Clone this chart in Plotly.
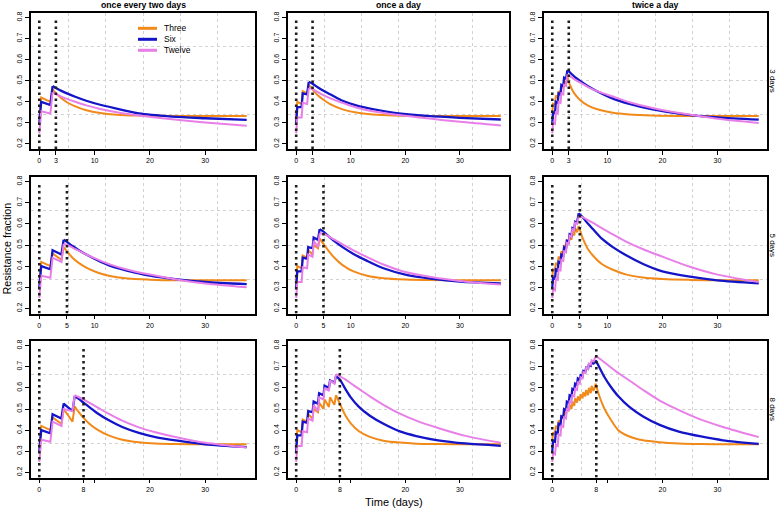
import plotly.graph_objects as go

# ---------------- data ----------------
durations = [3, 5, 8]
schedules = ["once every two days", "once a day", "twice a day"]
row_labels = ["3 days", "5 days", "8 days"]
series_names = ["Three", "Six", "Twelve"]
y_ticks = [0.2, 0.3, 0.4, 0.5, 0.6, 0.7, 0.8]

# r1c1: 3 days, once every two days
t_rise_r1c1 = [0, 0.35, 2.0, 2.4]
three_rise_r1c1 = [0.32, 0.42, 0.40, 0.46]
six_rise_r1c1 = [0.30, 0.40, 0.385, 0.475]
twelve_rise_r1c1 = [0.25, 0.355, 0.345, 0.445]
t_decay_r1c1 = [2.4, 3, 4, 5, 6.5, 8.5, 11, 14, 18, 24, 30, 37.5]
three_decay_r1c1 = [0.46, 0.44, 0.417, 0.398, 0.378, 0.36, 0.347, 0.339, 0.335, 0.333, 0.333, 0.333]
six_decay_r1c1 = [0.475, 0.466, 0.452, 0.44, 0.424, 0.405, 0.386, 0.368, 0.345, 0.330, 0.322, 0.314]
twelve_decay_r1c1 = [0.445, 0.437, 0.425, 0.414, 0.4, 0.383, 0.366, 0.35, 0.335, 0.317, 0.302, 0.286]

# r1c2: 3 days, once a day
t_rise_r1c2 = [0, 0.2, 1.0, 1.2, 2.0, 2.3]
three_rise_r1c2 = [0.32, 0.40, 0.39, 0.45, 0.44, 0.48]
six_rise_r1c2 = [0.30, 0.375, 0.375, 0.44, 0.435, 0.495]
twelve_rise_r1c2 = [0.25, 0.325, 0.325, 0.395, 0.39, 0.465]
t_decay_r1c2 = [2.3, 3, 4, 5, 6.5, 8.5, 11, 14, 18, 24, 30, 37.5]
three_decay_r1c2 = [0.48, 0.458, 0.43, 0.41, 0.385, 0.364, 0.349, 0.34, 0.335, 0.333, 0.333, 0.333]
six_decay_r1c2 = [0.495, 0.486, 0.468, 0.452, 0.432, 0.405, 0.383, 0.365, 0.348, 0.333, 0.324, 0.316]
twelve_decay_r1c2 = [0.465, 0.46, 0.446, 0.432, 0.414, 0.395, 0.373, 0.355, 0.34, 0.322, 0.305, 0.288]

# r1c3: 3 days, twice a day
t_rise_r1c3 = [0, 0.15, 0.5, 0.65, 1.0, 1.15, 1.5, 1.65, 2.0, 2.15, 2.5, 2.75]
three_rise_r1c3 = [0.35, 0.39, 0.385, 0.43, 0.42, 0.45, 0.44, 0.475, 0.465, 0.50, 0.485, 0.52]
six_rise_r1c3 = [0.30, 0.35, 0.345, 0.40, 0.395, 0.44, 0.435, 0.48, 0.475, 0.515, 0.51, 0.55]
twelve_rise_r1c3 = [0.25, 0.30, 0.295, 0.35, 0.345, 0.40, 0.395, 0.44, 0.435, 0.48, 0.475, 0.53]
t_decay_r1c3 = [2.75, 3.2, 4, 5, 6.5, 8.5, 11, 14, 18, 24, 30, 37.5]
three_decay_r1c3 = [0.52, 0.48, 0.44, 0.41, 0.382, 0.362, 0.348, 0.34, 0.335, 0.333, 0.333, 0.333]
six_decay_r1c3 = [0.55, 0.54, 0.52, 0.50, 0.474, 0.445, 0.415, 0.39, 0.365, 0.34, 0.326, 0.315]
twelve_decay_r1c3 = [0.53, 0.522, 0.508, 0.492, 0.47, 0.447, 0.425, 0.398, 0.372, 0.343, 0.32, 0.30]

# r2c1: 5 days, once every two days
t_rise_r2c1 = [0, 0.35, 2.0, 2.4, 4.0, 4.4]
three_rise_r2c1 = [0.32, 0.42, 0.40, 0.46, 0.43, 0.49]
six_rise_r2c1 = [0.30, 0.40, 0.385, 0.475, 0.455, 0.525]
twelve_rise_r2c1 = [0.25, 0.355, 0.345, 0.44, 0.42, 0.505]
t_decay_r2c1 = [4.4, 5, 6, 7, 8.5, 10.5, 13, 16, 20, 25, 30, 37.5]
three_decay_r2c1 = [0.49, 0.47, 0.44, 0.418, 0.393, 0.37, 0.352, 0.341, 0.336, 0.333, 0.333, 0.333]
six_decay_r2c1 = [0.525, 0.515, 0.495, 0.478, 0.455, 0.428, 0.40, 0.378, 0.355, 0.337, 0.325, 0.315]
twelve_decay_r2c1 = [0.505, 0.5, 0.488, 0.475, 0.455, 0.432, 0.406, 0.383, 0.36, 0.336, 0.318, 0.30]

# r2c2: 5 days, once a day
t_rise_r2c2 = [0, 0.2, 1.0, 1.2, 2.0, 2.2, 3.0, 3.2, 4.0, 4.3]
three_rise_r2c2 = [0.32, 0.40, 0.39, 0.45, 0.44, 0.475, 0.455, 0.50, 0.485, 0.53]
six_rise_r2c2 = [0.30, 0.375, 0.375, 0.44, 0.435, 0.49, 0.485, 0.535, 0.525, 0.575]
twelve_rise_r2c2 = [0.25, 0.325, 0.325, 0.395, 0.39, 0.455, 0.445, 0.52, 0.49, 0.555]
t_decay_r2c2 = [4.3, 5, 6, 7, 8.5, 10.5, 13, 16, 20, 25, 30, 37.5]
three_decay_r2c2 = [0.53, 0.505, 0.47, 0.44, 0.405, 0.375, 0.355, 0.343, 0.337, 0.334, 0.333, 0.333]
six_decay_r2c2 = [0.575, 0.563, 0.54, 0.518, 0.49, 0.458, 0.425, 0.39, 0.36, 0.34, 0.327, 0.318]
twelve_decay_r2c2 = [0.555, 0.553, 0.54, 0.525, 0.503, 0.475, 0.443, 0.408, 0.372, 0.347, 0.33, 0.313]

# r2c3: 5 days, twice a day
t_rise_r2c3 = [0, 0.15, 0.5, 0.65, 1.0, 1.15, 1.5, 1.65, 2.0, 2.15, 2.5, 2.65, 3.0, 3.15,
               3.5, 3.65, 4.0, 4.15, 4.5, 4.8]
three_rise_r2c3 = [0.35, 0.385, 0.38, 0.415, 0.405, 0.445, 0.435, 0.47, 0.455, 0.50, 0.48,
                   0.525, 0.505, 0.545, 0.525, 0.565, 0.545, 0.58, 0.56, 0.59]
six_rise_r2c3 = [0.30, 0.345, 0.34, 0.385, 0.38, 0.42, 0.415, 0.455, 0.45, 0.49, 0.485,
                 0.52, 0.515, 0.55, 0.545, 0.58, 0.575, 0.61, 0.605, 0.65]
twelve_rise_r2c3 = [0.25, 0.29, 0.285, 0.34, 0.335, 0.385, 0.38, 0.43, 0.425, 0.47, 0.465,
                    0.51, 0.505, 0.545, 0.54, 0.575, 0.57, 0.605, 0.6, 0.635]
t_decay_r2c3 = [4.8, 5.5, 6.5, 7.5, 9, 11, 13.5, 16.5, 20, 25, 30, 37.5]
three_decay_r2c3 = [0.59, 0.535, 0.48, 0.447, 0.41, 0.383, 0.36, 0.346, 0.339, 0.335, 0.333, 0.333]
six_decay_r2c3 = [0.65, 0.632, 0.6, 0.572, 0.53, 0.49, 0.45, 0.41, 0.375, 0.35, 0.333, 0.319]
twelve_decay_r2c3 = [0.635, 0.632, 0.618, 0.603, 0.58, 0.55, 0.515, 0.48, 0.445, 0.397, 0.36, 0.325]

# r3c1: 8 days, once every two days
t_rise_r3c1 = [0, 0.35, 2.0, 2.4, 4.0, 4.4, 6.0, 6.4]
three_rise_r3c1 = [0.32, 0.42, 0.40, 0.46, 0.43, 0.50, 0.44, 0.512]
six_rise_r3c1 = [0.30, 0.40, 0.385, 0.475, 0.455, 0.525, 0.49, 0.56]
twelve_rise_r3c1 = [0.25, 0.355, 0.345, 0.44, 0.42, 0.50, 0.49, 0.565]
t_decay_r3c1 = [6.4, 7, 8, 9, 10.5, 12.5, 15, 18, 21, 25, 30, 37.5]
three_decay_r3c1 = [0.512, 0.49, 0.458, 0.432, 0.402, 0.375, 0.355, 0.343, 0.337, 0.334, 0.333, 0.333]
six_decay_r3c1 = [0.56, 0.55, 0.53, 0.51, 0.48, 0.448, 0.415, 0.387, 0.367, 0.35, 0.333, 0.32]
twelve_decay_r3c1 = [0.565, 0.558, 0.545, 0.53, 0.508, 0.478, 0.445, 0.413, 0.39, 0.365, 0.34, 0.318]

# r3c2: 8 days, once a day
t_rise_r3c2 = [0, 0.2, 1, 1.2, 2, 2.2, 3, 3.2, 4, 4.2, 5, 5.2, 6, 6.2, 7, 7.3]
three_rise_r3c2 = [0.32, 0.40, 0.39, 0.45, 0.44, 0.475, 0.455, 0.50, 0.485, 0.53, 0.50, 0.545,
                   0.51, 0.555, 0.52, 0.565]
six_rise_r3c2 = [0.30, 0.375, 0.375, 0.44, 0.435, 0.49, 0.485, 0.535, 0.525, 0.575, 0.565, 0.61,
                 0.60, 0.635, 0.625, 0.655]
twelve_rise_r3c2 = [0.25, 0.325, 0.325, 0.395, 0.39, 0.455, 0.445, 0.52, 0.49, 0.555, 0.545, 0.60,
                    0.585, 0.635, 0.62, 0.665]
t_decay_r3c2 = [7.3, 8, 9, 10, 11.5, 13.5, 16, 19, 22, 26, 31, 37.5]
three_decay_r3c2 = [0.565, 0.525, 0.47, 0.432, 0.395, 0.368, 0.35, 0.341, 0.336, 0.334, 0.333, 0.333]
six_decay_r3c2 = [0.655, 0.64, 0.595, 0.555, 0.51, 0.468, 0.43, 0.394, 0.372, 0.352, 0.337, 0.326]
twelve_decay_r3c2 = [0.665, 0.655, 0.64, 0.622, 0.595, 0.56, 0.52, 0.478, 0.445, 0.41, 0.373, 0.34]

# r3c3: 8 days, twice a day
t_rise_r3c3 = [0, 0.15, 0.5, 0.65, 1, 1.15, 1.5, 1.65, 2, 2.15, 2.5, 2.65, 3, 3.15, 3.5, 3.65,
               4, 4.15, 4.5, 4.65, 5, 5.15, 5.5, 5.65, 6, 6.15, 6.5, 6.65, 7, 7.15, 7.5, 7.9]
three_rise_r3c3 = [0.35, 0.39, 0.38, 0.42, 0.41, 0.445, 0.435, 0.47, 0.455, 0.49, 0.475, 0.505,
                   0.49, 0.52, 0.50, 0.535, 0.515, 0.55, 0.53, 0.56, 0.54, 0.57, 0.55, 0.58,
                   0.56, 0.59, 0.565, 0.60, 0.575, 0.61, 0.585, 0.62]
six_rise_r3c3 = [0.30, 0.35, 0.345, 0.39, 0.385, 0.43, 0.425, 0.465, 0.46, 0.50, 0.495, 0.535,
                 0.53, 0.565, 0.56, 0.595, 0.59, 0.62, 0.615, 0.645, 0.64, 0.66, 0.655, 0.68,
                 0.675, 0.695, 0.69, 0.71, 0.705, 0.72, 0.715, 0.73]
twelve_rise_r3c3 = [0.25, 0.29, 0.285, 0.33, 0.325, 0.38, 0.375, 0.42, 0.415, 0.46, 0.455, 0.50,
                    0.495, 0.535, 0.53, 0.565, 0.56, 0.595, 0.59, 0.625, 0.62, 0.65, 0.645, 0.675,
                    0.67, 0.695, 0.69, 0.715, 0.71, 0.73, 0.725, 0.75]
t_decay_r3c3 = [7.9, 8.5, 9.5, 10.5, 12, 14, 16.5, 19.5, 23, 27, 31, 37.5]
three_decay_r3c3 = [0.62, 0.565, 0.5, 0.455, 0.4, 0.37, 0.352, 0.343, 0.337, 0.334, 0.333, 0.333]
six_decay_r3c3 = [0.73, 0.70, 0.65, 0.61, 0.56, 0.51, 0.465, 0.425, 0.393, 0.37, 0.352, 0.335]
twelve_decay_r3c3 = [0.75, 0.74, 0.72, 0.70, 0.67, 0.635, 0.59, 0.54, 0.495, 0.45, 0.415, 0.367]

panels = {
    (0, 0): (t_rise_r1c1, [three_rise_r1c1, six_rise_r1c1, twelve_rise_r1c1],
             t_decay_r1c1, [three_decay_r1c1, six_decay_r1c1, twelve_decay_r1c1]),
    (0, 1): (t_rise_r1c2, [three_rise_r1c2, six_rise_r1c2, twelve_rise_r1c2],
             t_decay_r1c2, [three_decay_r1c2, six_decay_r1c2, twelve_decay_r1c2]),
    (0, 2): (t_rise_r1c3, [three_rise_r1c3, six_rise_r1c3, twelve_rise_r1c3],
             t_decay_r1c3, [three_decay_r1c3, six_decay_r1c3, twelve_decay_r1c3]),
    (1, 0): (t_rise_r2c1, [three_rise_r2c1, six_rise_r2c1, twelve_rise_r2c1],
             t_decay_r2c1, [three_decay_r2c1, six_decay_r2c1, twelve_decay_r2c1]),
    (1, 1): (t_rise_r2c2, [three_rise_r2c2, six_rise_r2c2, twelve_rise_r2c2],
             t_decay_r2c2, [three_decay_r2c2, six_decay_r2c2, twelve_decay_r2c2]),
    (1, 2): (t_rise_r2c3, [three_rise_r2c3, six_rise_r2c3, twelve_rise_r2c3],
             t_decay_r2c3, [three_decay_r2c3, six_decay_r2c3, twelve_decay_r2c3]),
    (2, 0): (t_rise_r3c1, [three_rise_r3c1, six_rise_r3c1, twelve_rise_r3c1],
             t_decay_r3c1, [three_decay_r3c1, six_decay_r3c1, twelve_decay_r3c1]),
    (2, 1): (t_rise_r3c2, [three_rise_r3c2, six_rise_r3c2, twelve_rise_r3c2],
             t_decay_r3c2, [three_decay_r3c2, six_decay_r3c2, twelve_decay_r3c2]),
    (2, 2): (t_rise_r3c3, [three_rise_r3c3, six_rise_r3c3, twelve_rise_r3c3],
             t_decay_r3c3, [three_decay_r3c3, six_decay_r3c3, twelve_decay_r3c3]),
}

# ---------------- style ----------------
W, H = 778, 510
FONT = "Liberation Sans"
series_colors = ["#F28A1A", "#1414C8", "#E87FE8"]
series_widths = [2.0, 2.3, 2.0]
col_px = [(31, 255), (288, 509), (544, 767)]
row_px = [(12.5, 149), (176.5, 313.5), (340.5, 477.5)]
X_RANGE = [-1.5, 39]
Y_RANGE = [0.176, 0.824]
GRID = "#d2d2d2"

fig = go.Figure()
layout = {}

for (r, c), (t_rise, ys_rise, t_decay, ys_decay) in panels.items():
    idx = r * 3 + c + 1
    sfx = "" if idx == 1 else str(idx)
    xref, yref = "x" + sfx, "y" + sfx
    dur = durations[r]

    for s in range(3):
        fig.add_trace(go.Scatter(
            x=t_rise, y=ys_rise[s], mode="lines", xaxis=xref, yaxis=yref,
            line=dict(color=series_colors[s], width=series_widths[s]),
            showlegend=False, hoverinfo="skip"))
        fig.add_trace(go.Scatter(
            x=t_decay, y=ys_decay[s], mode="lines", xaxis=xref, yaxis=yref,
            line=dict(color=series_colors[s], width=series_widths[s],
                      shape="spline", smoothing=0.8),
            showlegend=False, hoverinfo="skip"))

    for xv in (0, dur):
        fig.add_trace(go.Scatter(
            x=[xv, xv], y=[Y_RANGE[0], y_ticks[-1]], mode="lines",
            xaxis=xref, yaxis=yref,
            line=dict(color="#1e1e1e", width=2.6, dash="2.5px,3.5px"),
            showlegend=False, hoverinfo="skip"))

    xt = [0, dur, 10, 20, 30]
    xl = [str(v) if not (v == 10 and abs(dur - 10) < 3) else "" for v in xt]

    x0, x1 = col_px[c]
    y0, y1 = row_px[r]
    common = dict(showline=True, mirror=True, linecolor="black", linewidth=1.5,
                  ticks="outside", ticklen=4, tickwidth=1, tickcolor="black",
                  tickfont=dict(size=7, family=FONT, color="black"),
                  showgrid=False, zeroline=False, fixedrange=True)
    layout["xaxis" + sfx] = dict(
        domain=[x0 / W, x1 / W], anchor=yref, range=X_RANGE,
        tickmode="array", tickvals=xt, ticktext=xl,
        minor=dict(tickmode="linear", tick0=X_RANGE[0],
                   dtick=(X_RANGE[1] - X_RANGE[0]) / 6, showgrid=True,
                   gridcolor=GRID, griddash="dot", gridwidth=1, ticks=""),
        **common)
    layout["yaxis" + sfx] = dict(
        domain=[1 - y1 / H, 1 - y0 / H], anchor=xref, range=Y_RANGE,
        tickmode="array", tickvals=y_ticks, ticktext=[f"{v:.1f}" for v in y_ticks],
        tickangle=-90,
        minor=dict(tickmode="linear", tick0=Y_RANGE[0],
                   dtick=(Y_RANGE[1] - Y_RANGE[0]) / 4, showgrid=True,
                   gridcolor=GRID, griddash="dot", gridwidth=1, ticks=""),
        **common)

annotations = []
for c, name in enumerate(schedules):
    annotations.append(dict(
        x=(col_px[c][0] + col_px[c][1]) / 2 / W, y=1 - 5.5 / H, xref="paper", yref="paper",
        text="<b>" + name + "</b>", showarrow=False, xanchor="center", yanchor="middle",
        font=dict(size=8.7, family=FONT, color="black")))
for r, name in enumerate(row_labels):
    annotations.append(dict(
        x=772.5 / W, y=1 - (row_px[r][0] + row_px[r][1]) / 2 / H, xref="paper", yref="paper",
        text=name, showarrow=False, textangle=90, xanchor="center", yanchor="middle",
        font=dict(size=8, family=FONT, color="black")))
annotations.append(dict(
    x=6.5 / W, y=1 - 249 / H, xref="paper", yref="paper", text="Resistance fraction",
    showarrow=False, textangle=-90, xanchor="center", yanchor="middle",
    font=dict(size=10.8, family=FONT, color="black")))
annotations.append(dict(
    x=394 / W, y=1 - 502 / H, xref="paper", yref="paper", text="Time (days)",
    showarrow=False, xanchor="center", yanchor="middle",
    font=dict(size=11, family=FONT, color="black")))

shapes = []
for i, name in enumerate(series_names):
    ypx = 28.3 + 11 * i
    shapes.append(dict(type="line", xref="paper", yref="paper",
                       x0=138 / W, x1=157 / W, y0=1 - ypx / H, y1=1 - ypx / H,
                       line=dict(color=series_colors[i], width=3)))
    annotations.append(dict(
        x=162 / W, y=1 - ypx / H, xref="paper", yref="paper", text=name,
        showarrow=False, xanchor="left", yanchor="middle",
        font=dict(size=8.5, family=FONT, color="black")))

fig.update_layout(
    width=W, height=H, margin=dict(l=0, r=0, t=0, b=0),
    paper_bgcolor="white", plot_bgcolor="white",
    font=dict(family=FONT, color="black"),
    annotations=annotations, shapes=shapes, showlegend=False,
    **layout)

fig.write_html("out.html",
               config={"displayModeBar": False},
               post_script="document.body.style.margin='0';"
                           "document.body.style.overflow='hidden';")
